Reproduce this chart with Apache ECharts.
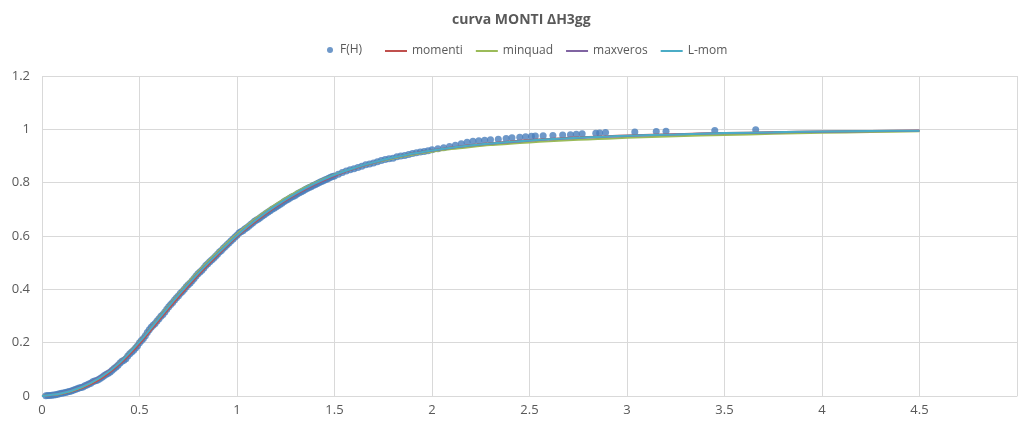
<!DOCTYPE html>
<html>
<head>
<meta charset="utf-8">
<script src="https://cdn.jsdelivr.net/npm/echarts@6/dist/echarts.min.js"></script>
<style>
  html, body { margin: 0; padding: 0; background: #ffffff; }
  #chart { width: 1020px; height: 423px; }
</style>
</head>
<body>
<div id="chart"></div>
<script>
// Observed sample: H values and their empirical frequency F(H)
const hVals = [
  0.02, 0.03, 0.04, 0.05, 0.06, 0.07, 0.08, 0.09, 0.10, 0.11,
  0.12, 0.13, 0.14, 0.15, 0.16, 0.17, 0.18, 0.19, 0.20, 0.21,
  0.22, 0.23, 0.24, 0.25, 0.26, 0.27, 0.28, 0.29, 0.30, 0.31,
  0.32, 0.33, 0.34, 0.35, 0.36, 0.37, 0.38, 0.39, 0.40, 0.41,
  0.42, 0.43, 0.44, 0.45, 0.46, 0.47, 0.48, 0.49, 0.50, 0.51,
  0.52, 0.53, 0.54, 0.55, 0.56, 0.57, 0.58, 0.59, 0.60, 0.61,
  0.62, 0.63, 0.64, 0.65, 0.66, 0.67, 0.68, 0.69, 0.70, 0.71,
  0.72, 0.73, 0.74, 0.75, 0.76, 0.77, 0.78, 0.79, 0.80, 0.81,
  0.82, 0.83, 0.84, 0.85, 0.86, 0.87, 0.88, 0.89, 0.90, 0.91,
  0.92, 0.93, 0.94, 0.95, 0.96, 0.97, 0.98, 0.99, 1.00, 1.01,
  1.02, 1.03, 1.04, 1.05, 1.06, 1.07, 1.08, 1.09, 1.10, 1.11,
  1.12, 1.13, 1.14, 1.15, 1.16, 1.17, 1.18, 1.19, 1.20, 1.21,
  1.22, 1.23, 1.24, 1.25, 1.26, 1.27, 1.28, 1.29, 1.30, 1.31,
  1.32, 1.33, 1.34, 1.35, 1.36, 1.37, 1.38, 1.39, 1.40, 1.41,
  1.42, 1.43, 1.44, 1.45, 1.46, 1.47, 1.48, 1.49, 1.50, 1.52,
  1.54, 1.56, 1.58, 1.60, 1.62, 1.64, 1.66, 1.68, 1.70, 1.72,
  1.74, 1.76, 1.78, 1.80, 1.82, 1.84, 1.86, 1.88, 1.90, 1.92,
  1.94, 1.96, 1.98, 2.00, 2.03, 2.06, 2.09, 2.12, 2.15, 2.18,
  2.21, 2.24, 2.27, 2.30, 2.34, 2.38, 2.41, 2.45, 2.48, 2.51,
  2.53, 2.57, 2.62, 2.67, 2.71, 2.74, 2.77, 2.84, 2.86, 2.89,
  3.04, 3.15, 3.20, 3.45, 3.66
];
const fhVals = [
  0.001, 0.002, 0.002, 0.003, 0.004, 0.005, 0.007, 0.008, 0.010, 0.011,
  0.013, 0.015, 0.017, 0.019, 0.022, 0.024, 0.027, 0.030, 0.032, 0.034,
  0.038, 0.041, 0.045, 0.048, 0.053, 0.056, 0.058, 0.062, 0.067, 0.071,
  0.077, 0.082, 0.085, 0.090, 0.097, 0.103, 0.109, 0.115, 0.124, 0.130,
  0.134, 0.140, 0.150, 0.158, 0.165, 0.172, 0.180, 0.188, 0.200, 0.208,
  0.216, 0.226, 0.238, 0.248, 0.258, 0.265, 0.272, 0.281, 0.290, 0.299,
  0.306, 0.315, 0.325, 0.335, 0.343, 0.351, 0.360, 0.368, 0.376, 0.385,
  0.392, 0.400, 0.410, 0.417, 0.424, 0.432, 0.441, 0.450, 0.458, 0.465,
  0.472, 0.480, 0.489, 0.496, 0.503, 0.510, 0.517, 0.524, 0.532, 0.540,
  0.546, 0.554, 0.561, 0.568, 0.575, 0.582, 0.589, 0.596, 0.603, 0.611,
  0.616, 0.620, 0.626, 0.631, 0.637, 0.643, 0.649, 0.655, 0.660, 0.664,
  0.669, 0.675, 0.680, 0.685, 0.690, 0.695, 0.700, 0.704, 0.709, 0.713,
  0.718, 0.723, 0.728, 0.733, 0.737, 0.742, 0.746, 0.749, 0.753, 0.758,
  0.762, 0.766, 0.770, 0.774, 0.778, 0.782, 0.785, 0.789, 0.792, 0.796,
  0.800, 0.803, 0.806, 0.810, 0.813, 0.817, 0.820, 0.823, 0.825, 0.832,
  0.838, 0.844, 0.848, 0.852, 0.857, 0.862, 0.867, 0.870, 0.874, 0.878,
  0.883, 0.887, 0.890, 0.892, 0.897, 0.900, 0.902, 0.906, 0.909, 0.912,
  0.915, 0.917, 0.920, 0.923, 0.927, 0.931, 0.936, 0.940, 0.946, 0.952,
  0.955, 0.957, 0.959, 0.961, 0.963, 0.966, 0.968, 0.970, 0.972, 0.974,
  0.975, 0.976, 0.977, 0.979, 0.980, 0.982, 0.983, 0.985, 0.986, 0.988,
  0.990, 0.992, 0.993, 0.996, 0.998
];

// Fitted distribution curves, sampled on a common H grid
const fitX = [
  0, 0.1, 0.2, 0.3, 0.4, 0.5, 0.6, 0.7, 0.8, 0.9,
  1.0, 1.1, 1.2, 1.3, 1.4, 1.5, 1.6, 1.7, 1.8, 1.9,
  2.0, 2.1, 2.2, 2.3, 2.4, 2.5, 2.6, 2.7, 2.8, 2.9,
  3.0, 3.25, 3.5, 3.75, 4.0, 4.25, 4.5
];
const momenti = [
  0, 0.008, 0.029, 0.064, 0.121, 0.196, 0.284, 0.371, 0.453, 0.528,
  0.598, 0.657, 0.710, 0.755, 0.794, 0.826, 0.853, 0.875, 0.893, 0.909,
  0.921, 0.932, 0.941, 0.948, 0.954, 0.960, 0.964, 0.968, 0.971, 0.974,
  0.977, 0.982, 0.986, 0.989, 0.992, 0.994, 0.996
];
const minquad = [
  0, 0.009, 0.032, 0.071, 0.129, 0.207, 0.296, 0.384, 0.466, 0.540,
  0.608, 0.668, 0.720, 0.764, 0.800, 0.830, 0.854, 0.874, 0.891, 0.905,
  0.916, 0.926, 0.934, 0.941, 0.946, 0.951, 0.955, 0.959, 0.962, 0.965,
  0.968, 0.974, 0.979, 0.983, 0.987, 0.990, 0.993
];
const maxveros = [
  0, 0.011, 0.035, 0.073, 0.128, 0.205, 0.293, 0.380, 0.461, 0.534,
  0.603, 0.663, 0.714, 0.758, 0.796, 0.828, 0.854, 0.875, 0.893, 0.908,
  0.920, 0.930, 0.939, 0.946, 0.952, 0.957, 0.962, 0.966, 0.969, 0.972,
  0.975, 0.981, 0.985, 0.988, 0.991, 0.993, 0.995
];
const lmom = [
  0, 0.010, 0.033, 0.070, 0.126, 0.203, 0.291, 0.378, 0.459, 0.533,
  0.602, 0.662, 0.714, 0.759, 0.797, 0.829, 0.855, 0.876, 0.894, 0.909,
  0.921, 0.931, 0.940, 0.947, 0.953, 0.958, 0.963, 0.967, 0.970, 0.973,
  0.976, 0.981, 0.986, 0.989, 0.992, 0.994, 0.995
];

const FONT = '"Open Sans", "Noto Sans", sans-serif';
const TEXT = '#595959';
const GRID = '#d9d9d9';

const pairs = (xs, ys) => xs.map((x, i) => [x, ys[i]]);

const fitSeries = (name, values, color) => ({
  name,
  type: 'line',
  data: pairs(fitX, values),
  symbol: 'none',
  smooth: 0.3,
  lineStyle: { color, width: 2 },
  itemStyle: { color },
  z: 3
});

const chart = echarts.init(document.getElementById('chart'), null, { renderer: 'canvas' });

chart.setOption({
  animation: false,
  backgroundColor: '#ffffff',
  title: {
    text: 'curva MONTI ΔH3gg',
    left: 447,
    top: 8,
    textStyle: { fontFamily: FONT, fontSize: 14, fontWeight: 'bold', color: TEXT }
  },
  legend: [
    {
      data: [{ name: 'F(H)', icon: 'circle' }],
      left: 322,
      top: 39,
      itemWidth: 10,
      itemHeight: 6,
      textStyle: { fontFamily: FONT, fontSize: 12, color: TEXT }
    },
    {
      data: [
        { name: 'momenti', icon: 'rect' },
        { name: 'minquad', icon: 'rect' },
        { name: 'maxveros', icon: 'rect' },
        { name: 'L-mom', icon: 'rect' }
      ],
      left: 380,
      top: 39,
      itemWidth: 22,
      itemHeight: 2,
      itemGap: 13,
      textStyle: { fontFamily: FONT, fontSize: 12, color: TEXT, lineHeight: 14 }
    }
  ],
  grid: { left: 42, right: -5, top: 76, bottom: 27, containLabel: false },
  xAxis: {
    type: 'value',
    min: 0,
    max: 5,
    interval: 0.5,
    axisLine: { show: true, lineStyle: { color: GRID, width: 1 } },
    axisTick: { show: false },
    axisLabel: {
      margin: 8,
      fontFamily: FONT,
      fontSize: 13,
      color: TEXT,
      formatter: v => (v > 4.6 ? '' : String(+v.toFixed(1)))
    },
    splitLine: { show: true, lineStyle: { color: GRID, width: 1 } }
  },
  yAxis: {
    type: 'value',
    min: 0,
    max: 1.2,
    interval: 0.2,
    axisLine: { show: false },
    axisTick: { show: false },
    axisLabel: {
      margin: 12,
      fontFamily: FONT,
      fontSize: 13,
      color: TEXT,
      formatter: v => String(+v.toFixed(1))
    },
    splitLine: { show: true, lineStyle: { color: GRID, width: 1 } }
  },
  series: [
    {
      name: 'F(H)',
      type: 'scatter',
      data: pairs(hVals, fhVals),
      symbol: 'circle',
      symbolSize: 7,
      itemStyle: { color: '#4a7ebb' },
      z: 2
    },
    fitSeries('momenti', momenti, '#c0504d'),
    fitSeries('minquad', minquad, '#9bbb59'),
    fitSeries('maxveros', maxveros, '#8064a2'),
    fitSeries('L-mom', lmom, '#4bacc6')
  ]
});
</script>
</body>
</html>
